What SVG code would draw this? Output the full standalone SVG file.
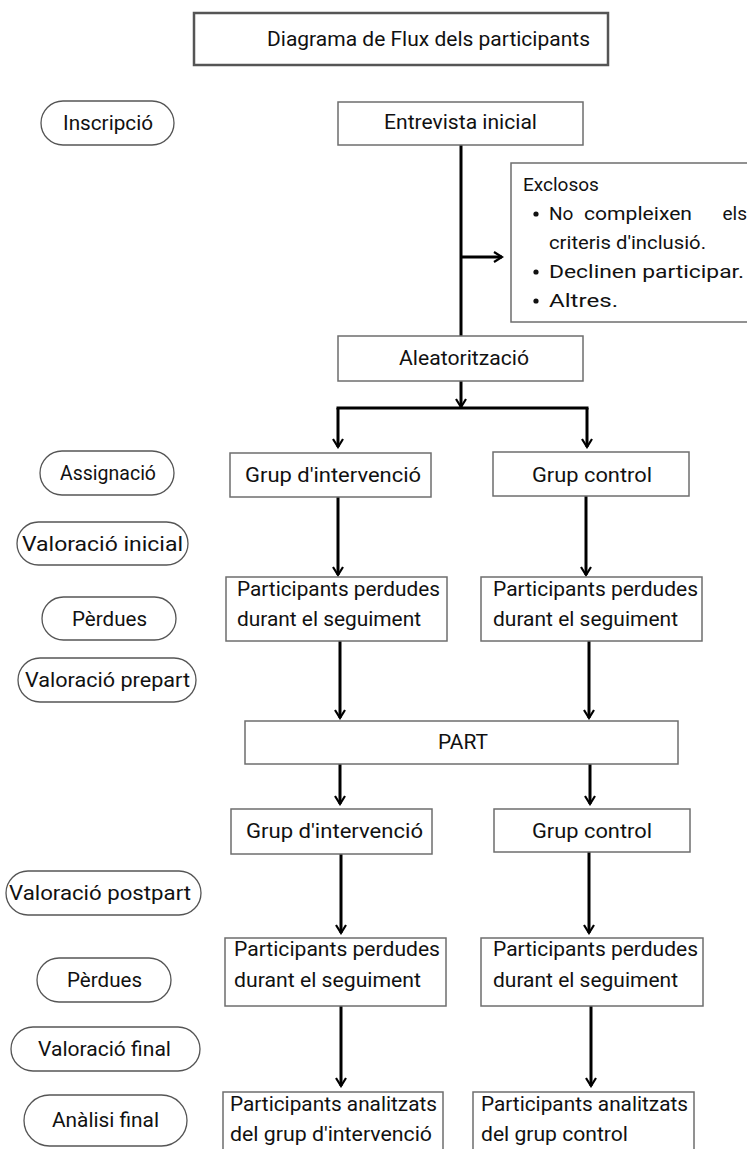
<svg xmlns="http://www.w3.org/2000/svg" width="747" height="1149" viewBox="0 0 747 1149">
<style>
text{font-family:Roboto,"Liberation Sans",sans-serif;fill:#111;font-size:20px}
.box{fill:#fff;stroke:#6e6e6e;stroke-width:1.5}
.pill{fill:#fff;stroke:#555;stroke-width:1.3}
.title{fill:#fff;stroke:#555;stroke-width:2.5}
.ex{font-size:19px}
.con line{stroke:#000;stroke-width:3;fill:none}
</style>
<defs>
<marker id="ah" viewBox="0 0 12 12" refX="10" refY="6" markerWidth="12" markerHeight="12" markerUnits="userSpaceOnUse" orient="auto">
<path d="M2,1 L10,6 L2,11" fill="none" stroke="#000" stroke-width="2.2"/>
</marker>
</defs>
<rect width="747" height="1149" fill="#fff"/>

<g id="title"><rect class="title" x="194" y="13" width="414" height="52"/>
<text x="267" y="46" textLength="323" lengthAdjust="spacingAndGlyphs">Diagrama de Flux dels participants</text></g>

<g class="con" id="connectors">
<line x1="461" y1="145" x2="461" y2="336"/>
<line x1="461" y1="257" x2="502" y2="257" marker-end="url(#ah)"/>
<line x1="461" y1="381" x2="461" y2="407" marker-end="url(#ah)"/>
<line x1="336.5" y1="408" x2="588.5" y2="408"/>
<line x1="338" y1="408" x2="338" y2="447" marker-end="url(#ah)"/>
<line x1="587" y1="408" x2="587" y2="447" marker-end="url(#ah)"/>
<line x1="338" y1="497" x2="338" y2="575" marker-end="url(#ah)"/>
<line x1="586" y1="496" x2="586" y2="575" marker-end="url(#ah)"/>
<line x1="340" y1="641" x2="340" y2="718" marker-end="url(#ah)"/>
<line x1="589" y1="641" x2="589" y2="718" marker-end="url(#ah)"/>
<line x1="340" y1="764" x2="340" y2="804" marker-end="url(#ah)"/>
<line x1="590" y1="764" x2="590" y2="804" marker-end="url(#ah)"/>
<line x1="341" y1="854" x2="341" y2="933" marker-end="url(#ah)"/>
<line x1="589" y1="852" x2="589" y2="933" marker-end="url(#ah)"/>
<line x1="341" y1="1006" x2="341" y2="1086" marker-end="url(#ah)"/>
<line x1="591" y1="1006" x2="591" y2="1086" marker-end="url(#ah)"/>
</g>

<g id="p-inscripcio"><rect class="pill" x="41" y="101" width="133" height="44" rx="22"/>
<text x="63" y="130" textLength="90" lengthAdjust="spacingAndGlyphs">Inscripció</text></g>
<g id="p-assignacio"><rect class="pill" x="40" y="451" width="134" height="44" rx="22"/>
<text x="60" y="480" textLength="96" lengthAdjust="spacingAndGlyphs">Assignació</text></g>
<g id="p-valinicial"><rect class="pill" x="17" y="522" width="171" height="43" rx="21.5"/>
<text x="22" y="551" textLength="161" lengthAdjust="spacingAndGlyphs">Valoració inicial</text></g>
<g id="p-perdues1"><rect class="pill" x="42" y="597" width="134" height="43" rx="21.5"/>
<text x="72" y="626" textLength="75" lengthAdjust="spacingAndGlyphs">Pèrdues</text></g>
<g id="p-valprepart"><rect class="pill" x="18" y="658" width="178" height="44" rx="22"/>
<text x="25" y="687" textLength="165" lengthAdjust="spacingAndGlyphs">Valoració prepart</text></g>
<g id="p-valpostpart"><rect class="pill" x="6" y="871" width="195" height="44" rx="22"/>
<text x="9" y="900" textLength="182" lengthAdjust="spacingAndGlyphs">Valoració postpart</text></g>
<g id="p-perdues2"><rect class="pill" x="37" y="958" width="134" height="44" rx="22"/>
<text x="67" y="987" textLength="75" lengthAdjust="spacingAndGlyphs">Pèrdues</text></g>
<g id="p-valfinal"><rect class="pill" x="11" y="1027" width="189" height="44" rx="22"/>
<text x="38" y="1056" textLength="133" lengthAdjust="spacingAndGlyphs">Valoració final</text></g>
<g id="p-analisi"><rect class="pill" x="24" y="1095" width="163" height="51" rx="25.5"/>
<text x="52" y="1127" textLength="107" lengthAdjust="spacingAndGlyphs">Anàlisi final</text></g>

<g id="n-entrevista"><rect class="box" x="338" y="102" width="245" height="43"/>
<text x="384" y="129" textLength="153" lengthAdjust="spacingAndGlyphs">Entrevista inicial</text></g>

<g id="n-exclosos"><rect class="box" x="511" y="163" width="250" height="159"/>
<text class="ex" x="523" y="191">Exclosos</text>
<circle cx="536" cy="214" r="2.6" fill="#111"/>
<text class="ex" x="549" y="220">No</text>
<text class="ex" x="584" y="220" textLength="108" lengthAdjust="spacingAndGlyphs">compleixen</text>
<text class="ex" x="747" y="220" text-anchor="end">els</text>
<text class="ex" x="549" y="249" textLength="157" lengthAdjust="spacingAndGlyphs">criteris d'inclusió.</text>
<circle cx="536" cy="272" r="2.6" fill="#111"/>
<text class="ex" x="549" y="278" textLength="195" lengthAdjust="spacingAndGlyphs">Declinen participar.</text>
<circle cx="536" cy="301" r="2.6" fill="#111"/>
<text class="ex" x="549" y="307" textLength="69" lengthAdjust="spacingAndGlyphs">Altres.</text></g>

<g id="n-aleatoritzacio"><rect class="box" x="338" y="336" width="245" height="45"/>
<text x="399" y="365" textLength="130" lengthAdjust="spacingAndGlyphs">Aleatorització</text></g>

<g id="n-grupint1"><rect class="box" x="230" y="453" width="201" height="44"/>
<text x="245" y="482" textLength="176" lengthAdjust="spacingAndGlyphs">Grup d'intervenció</text></g>
<g id="n-grupctl1"><rect class="box" x="493" y="452" width="196" height="44"/>
<text x="532" y="482" textLength="120" lengthAdjust="spacingAndGlyphs">Grup control</text></g>

<g id="n-perd1l"><rect class="box" x="226" y="577" width="221" height="64"/>
<text x="237" y="596" textLength="203" lengthAdjust="spacingAndGlyphs">Participants perdudes</text>
<text x="237" y="626" textLength="184" lengthAdjust="spacingAndGlyphs">durant el seguiment</text></g>
<g id="n-perd1r"><rect class="box" x="481" y="577" width="221" height="64"/>
<text x="493" y="596" textLength="205" lengthAdjust="spacingAndGlyphs">Participants perdudes</text>
<text x="493" y="626" textLength="185" lengthAdjust="spacingAndGlyphs">durant el seguiment</text></g>

<g id="n-part"><rect class="box" x="245" y="721" width="433" height="43"/>
<text x="438" y="749" textLength="50" lengthAdjust="spacingAndGlyphs">PART</text></g>

<g id="n-grupint2"><rect class="box" x="231" y="809" width="201" height="45"/>
<text x="246" y="838" textLength="177" lengthAdjust="spacingAndGlyphs">Grup d'intervenció</text></g>
<g id="n-grupctl2"><rect class="box" x="494" y="809" width="196" height="43"/>
<text x="532" y="838" textLength="120" lengthAdjust="spacingAndGlyphs">Grup control</text></g>

<g id="n-perd2l"><rect class="box" x="225" y="938" width="221" height="68"/>
<text x="234" y="956" textLength="206" lengthAdjust="spacingAndGlyphs">Participants perdudes</text>
<text x="234" y="987" textLength="187" lengthAdjust="spacingAndGlyphs">durant el seguiment</text></g>
<g id="n-perd2r"><rect class="box" x="481" y="938" width="222" height="68"/>
<text x="493" y="956" textLength="205" lengthAdjust="spacingAndGlyphs">Participants perdudes</text>
<text x="493" y="987" textLength="185" lengthAdjust="spacingAndGlyphs">durant el seguiment</text></g>

<g id="n-anal-l"><rect class="box" x="223" y="1092" width="220" height="70"/>
<text x="230" y="1111" textLength="207" lengthAdjust="spacingAndGlyphs">Participants analitzats</text>
<text x="230" y="1141" textLength="202" lengthAdjust="spacingAndGlyphs">del grup d'intervenció</text></g>
<g id="n-anal-r"><rect class="box" x="473" y="1092" width="221" height="70"/>
<text x="481" y="1111" textLength="207" lengthAdjust="spacingAndGlyphs">Participants analitzats</text>
<text x="481" y="1141" textLength="147" lengthAdjust="spacingAndGlyphs">del grup control</text></g>
</svg>
